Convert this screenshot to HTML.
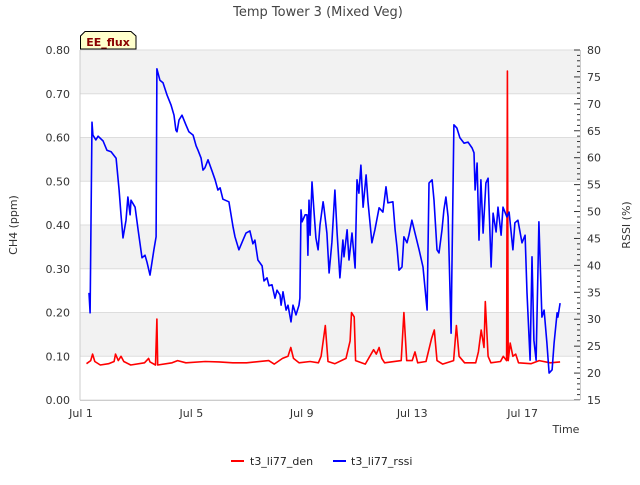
<!DOCTYPE html>
<html><head><meta charset="utf-8"><style>
body{margin:0;background:#fff;}
svg text{font-family:"DejaVu Sans","Liberation Sans",sans-serif;}
</style></head><body>
<svg id="chart" width="640" height="480" xmlns="http://www.w3.org/2000/svg">
<text x="318" y="16" font-size="13" fill="#444" text-anchor="middle">Temp Tower 3 (Mixed Veg)</text>
<g id="plot"></g>
<path d="M80.5,49 L80.5,36 L85,31.5 L131,31.5 L136,36 L136,49 Z" fill="#ffffcc" stroke="#000" stroke-width="1"/>
<text x="108" y="46" font-size="11" font-weight="bold" fill="#8b0000" text-anchor="middle">EE_flux</text>
<text transform="translate(17,225) rotate(-90)" font-size="11" fill="#333" text-anchor="middle">CH4 (ppm)</text>
<text transform="translate(630,225) rotate(-90)" font-size="11" fill="#333" text-anchor="middle">RSSI (%)</text>
<text x="566" y="433" font-size="11" fill="#333" text-anchor="middle">Time</text>
<line x1="231" y1="461" x2="244" y2="461" stroke="#f00" stroke-width="2"/>
<text x="250" y="465" font-size="11" fill="#222">t3_li77_den</text>
<line x1="333" y1="461" x2="346" y2="461" stroke="#00f" stroke-width="2"/>
<text x="351" y="465" font-size="11" fill="#222">t3_li77_rssi</text>
</svg>
<script>
const xTickLabels=["Jul 1","Jul 5","Jul 9","Jul 13","Jul 17"];
const xTickDays=[1,5,9,13,17];
const leftTicks=[0,0.1,0.2,0.3,0.4,0.5,0.6,0.7,0.8];
const rightTicks=[15,20,25,30,35,40,45,50,55,60,65,70,75,80];
const rssiDays=[1.29,1.33,1.40,1.43,1.54,1.62,1.80,1.94,2.09,2.27,2.38,2.45,2.52,2.63,2.70,2.78,2.81,2.96,3.07,3.21,3.32,3.39,3.50,3.64,3.72,3.75,3.86,3.97,4.12,4.26,4.37,4.44,4.48,4.55,4.66,4.80,4.91,5.06,5.17,5.24,5.35,5.42,5.49,5.60,5.75,5.86,5.96,6.04,6.14,6.36,6.51,6.58,6.72,6.87,6.98,7.12,7.23,7.30,7.41,7.56,7.63,7.74,7.81,7.92,8.03,8.10,8.21,8.25,8.32,8.43,8.50,8.61,8.68,8.79,8.90,8.93,8.97,9.01,9.12,9.19,9.22,9.26,9.30,9.37,9.44,9.51,9.59,9.66,9.77,9.80,9.91,9.99,10.09,10.20,10.28,10.38,10.49,10.53,10.64,10.71,10.82,10.93,11.00,11.07,11.14,11.22,11.33,11.40,11.54,11.65,11.80,11.94,12.05,12.12,12.30,12.38,12.45,12.52,12.63,12.70,12.81,12.88,12.99,13.10,13.25,13.39,13.46,13.54,13.61,13.72,13.79,13.90,13.97,14.08,14.15,14.22,14.30,14.41,14.44,14.51,14.62,14.73,14.88,15.02,15.17,15.24,15.28,15.35,15.42,15.49,15.57,15.67,15.75,15.86,15.93,16.04,16.11,16.22,16.29,16.43,16.51,16.65,16.72,16.83,16.98,17.09,17.16,17.27,17.34,17.41,17.49,17.56,17.59,17.70,17.78,17.88,17.96,18.07,18.14,18.25,18.28,18.36];
const rssiValues=[34.9,31.2,66.6,64.2,63.3,64.0,63.1,61.4,61.1,59.9,54.0,49.4,45.1,48.4,52.7,49.4,52.1,50.8,46.6,41.4,41.9,40.6,38.2,42.9,45.3,76.5,74.4,73.9,71.6,69.8,67.9,65.1,64.8,67.0,67.9,66.1,64.8,64.2,62.2,61.4,59.9,57.7,58.1,59.6,57.5,55.9,54.0,54.4,52.3,51.8,47.1,45.3,42.9,44.7,46.0,46.4,44.0,44.7,41.0,39.9,37.1,37.7,36.2,36.4,33.9,35.4,34.5,32.6,35.1,31.7,32.6,29.5,32.6,30.8,32.6,33.9,50.3,48.1,49.4,49.4,41.9,52.1,45.6,55.5,50.3,45.1,42.9,47.5,51.8,50.8,46.0,38.6,44.3,54.0,46.0,37.7,44.7,41.6,46.6,41.0,46.0,39.5,55.9,53.4,58.6,50.8,56.8,51.8,44.2,46.6,50.7,49.9,54.6,51.6,51.8,46.6,43.4,39.1,39.7,45.3,44.2,45.6,48.4,46.0,42.9,39.7,36.0,31.7,55.3,55.9,52.1,42.9,42.3,46.6,50.3,52.7,49.0,27.4,39.1,66.1,65.5,63.7,62.7,62.9,61.8,60.9,54.0,59.0,44.7,55.9,46.0,55.3,56.2,39.7,49.7,46.2,50.8,45.6,50.8,49.0,49.9,42.9,47.9,48.4,44.2,45.6,34.9,22.4,41.6,26.1,22.4,40.4,48.1,30.4,31.7,25.6,20.0,20.6,25.6,31.2,30.4,33.0];
const denDays=[1.20,1.35,1.42,1.50,1.70,2.00,2.20,2.25,2.35,2.45,2.55,2.80,3.30,3.45,3.50,3.70,3.75,3.78,4.30,4.50,4.80,5.50,6.00,6.50,7.00,7.80,8.00,8.30,8.50,8.60,8.70,8.90,9.30,9.60,9.70,9.85,9.95,10.20,10.60,10.75,10.80,10.90,10.95,11.30,11.60,11.70,11.80,11.90,12.00,12.60,12.70,12.80,13.00,13.10,13.20,13.50,13.70,13.80,13.90,14.10,14.50,14.60,14.70,14.90,15.30,15.40,15.50,15.60,15.65,15.75,15.85,16.20,16.30,16.42,16.45,16.48,16.55,16.65,16.75,16.85,17.30,17.60,18.00,18.36];
const denValues=[0.083,0.09,0.105,0.088,0.08,0.083,0.088,0.105,0.09,0.1,0.088,0.08,0.085,0.095,0.087,0.08,0.185,0.08,0.085,0.09,0.085,0.088,0.087,0.085,0.085,0.09,0.082,0.095,0.1,0.12,0.095,0.085,0.088,0.085,0.1,0.17,0.088,0.083,0.095,0.135,0.2,0.19,0.09,0.082,0.115,0.105,0.12,0.095,0.085,0.09,0.2,0.09,0.09,0.11,0.085,0.088,0.14,0.16,0.09,0.082,0.09,0.17,0.1,0.085,0.085,0.11,0.16,0.12,0.225,0.1,0.085,0.088,0.1,0.09,0.752,0.09,0.13,0.1,0.105,0.085,0.083,0.09,0.085,0.087];

const NS="http://www.w3.org/2000/svg";
const L=80,R=580,T=50,B=400;
const xS=d=>81+(d-1)*27.6;
const yL=v=>B-(v/0.8)*(B-T);
const yR=v=>B-((v-15)/65)*(B-T);
const plot=document.getElementById('plot');
function mk(tag,attrs,parent){const e=document.createElementNS(NS,tag);for(const k in attrs)e.setAttribute(k,attrs[k]);(parent||plot).appendChild(e);return e;}
mk('rect',{x:L,y:T,width:R-L,height:B-T,fill:'#fff'});
for(let i=0;i<leftTicks.length-1;i++){
  if(i%2===1){const b=mk('rect',{x:L,y:yL(leftTicks[i+1]),width:R-L,height:yL(leftTicks[i])-yL(leftTicks[i+1]),fill:'#f2f2f2'});
  
  }
}
leftTicks.forEach(v=>{
  const g=mk('line',{x1:L,x2:R,y1:yL(v),y2:yL(v),stroke:'#ddd','stroke-width':1});
  
  
  const t=mk('text',{x:70,y:yL(v)+4,'font-size':11,fill:'#333','text-anchor':'end'});
  t.textContent=v.toFixed(2);
  
  
});
for(let v=15;v<=80;v++){
  const major=v%5===0;
  mk('line',{x1:major?574:577,x2:R,y1:yR(v),y2:yR(v),stroke:'#333','stroke-width':1});
}
rightTicks.forEach(v=>{
  const t=mk('text',{x:587,y:yR(v)+4,'font-size':11,fill:'#333'});
  t.textContent=v;
  
  
});
xTickDays.forEach((d,i)=>{
  const t=mk('text',{x:xS(d),y:417,'font-size':11,fill:'#333','text-anchor':'middle'});
  t.textContent=xTickLabels[i];
  
  
});
mk('line',{x1:L,x2:L,y1:T,y2:B,stroke:'#ccc'});
mk('line',{x1:L,x2:R,y1:B+0.5,y2:B+0.5,stroke:'#ccc'});
mk('line',{x1:R+0.5,x2:R+0.5,y1:T,y2:B,stroke:'#ccc'});
const den=mk('polyline',{points:denDays.map((d,i)=>xS(d).toFixed(1)+','+yL(denValues[i]).toFixed(1)).join(' '),fill:'none',stroke:'#f00','stroke-width':1.6,'stroke-linejoin':'round'});


const rs=mk('polyline',{points:rssiDays.map((d,i)=>xS(d).toFixed(1)+','+yR(rssiValues[i]).toFixed(1)).join(' '),fill:'none',stroke:'#00f','stroke-width':1.6,'stroke-linejoin':'round'});


</script>
</body></html>
